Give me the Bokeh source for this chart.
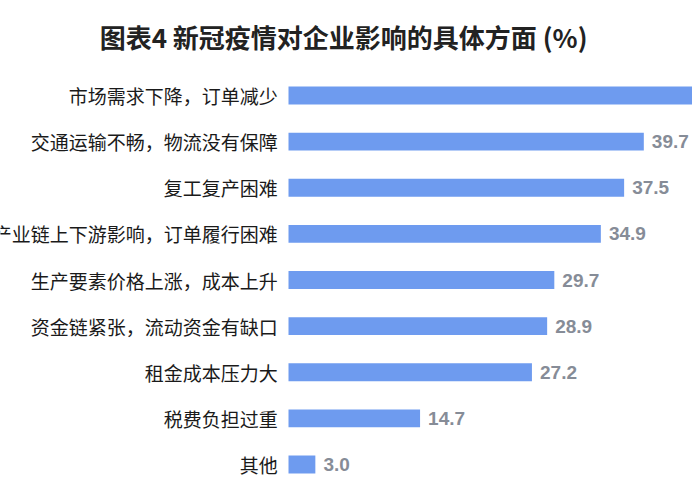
from bokeh.plotting import figure
from bokeh.models import Range1d, ColumnDataSource
from bokeh.core.properties import value
from bokeh.embed import file_html
from bokeh.resources import INLINE

title_text = "图表4  新冠疫情对企业影响的具体方面 (%)"
categories = [
    "市场需求下降，订单减少",
    "交通运输不畅，物流没有保障",
    "复工复产困难",
    "产业链上下游影响，订单履行困难",
    "生产要素价格上涨，成本上升",
    "资金链紧张，流动资金有缺口",
    "租金成本压力大",
    "税费负担过重",
    "其他",
]
values = [48.3, 39.7, 37.5, 34.9, 29.7, 28.9, 27.2, 14.7, 3.0]
# the first bar's value runs off the right edge in the reference, so no label is shown
value_labels = ["", "39.7", "37.5", "34.9", "29.7", "28.9", "27.2", "14.7", "3.0"]

rows = list(range(len(categories)))
src = ColumnDataSource(dict(
    row=rows,
    cat=categories,
    val=values,
    lab=value_labels,
    lab_x=[-1.2] * len(values),
    val_x=[v + 0.9 for v in values],
))

W, H = 692, 484
TOP = 60
px_per_unit = 8.95
zero_px = 288.0
row_px = 46.125
first_px = 35.0
frame_h = H - TOP
p = figure(
    width=W, height=H,
    output_backend="svg", toolbar_location=None,
    x_range=Range1d(-zero_px / px_per_unit, (W - zero_px) / px_per_unit),
    y_range=Range1d((frame_h - first_px) / row_px, -first_px / row_px),
    title=title_text,
    min_border=0,
)
p.min_border_top = TOP
p.title.align = "center"
p.title.vertical_align = "middle"
p.title.offset = 6
p.title.text_font = "Noto Sans CJK SC"
p.title.text_font_size = "26px"
p.title.text_font_style = "bold"
p.title.text_color = "#222222"
p.axis.visible = False
p.grid.visible = False
p.outline_line_color = None
p.background_fill_color = "white"
p.border_fill_color = "white"

p.hbar(y="row", left=0, right="val", height=0.39, source=src,
       fill_color="#6e9bef", line_color=None)

p.text(x="lab_x", y="row", text="cat", source=src,
       text_align="right", text_baseline="middle",
       text_font=value("Noto Sans CJK SC"), text_font_size="19px",
       text_color="#1a1a1a")

p.text(x="val_x", y="row", text="lab", source=src,
       text_align="left", text_baseline="middle",
       text_font=value("Liberation Sans"), text_font_size="19px",
       text_font_style="bold", text_color="#868c97")

open("out.html", "w").write(file_html(p, INLINE))
